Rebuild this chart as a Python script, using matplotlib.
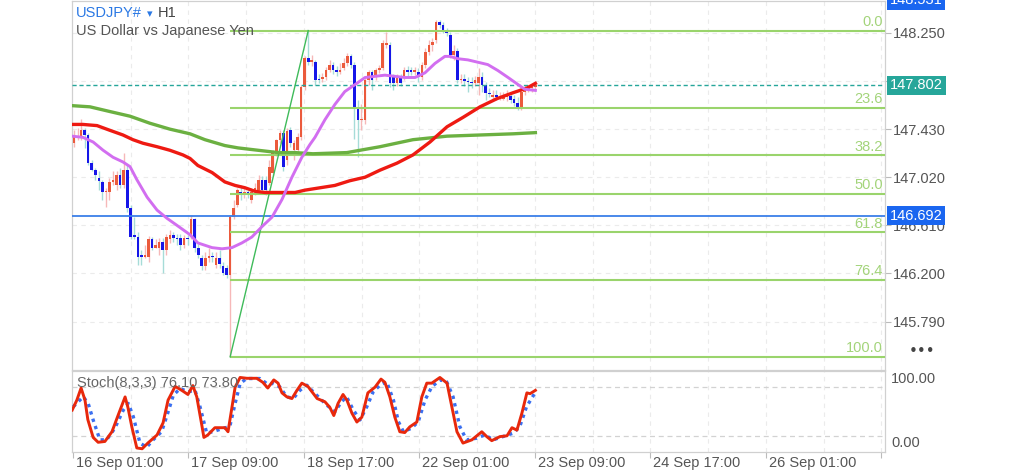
import matplotlib
matplotlib.use("Agg")
import matplotlib.pyplot as plt
import numpy as np

plt.rcParams['font.family'] = ['Liberation Sans', 'DejaVu Sans']

# ---------------- data ----------------
opens = [147.31, 147.36, 147.37, 147.42, 147.38, 147.14, 147.08, 147.01, 146.98, 146.89,
         146.89, 146.98, 146.95, 147.04, 146.95, 147.08, 146.76, 146.53, 146.51, 146.36,
         146.34, 146.34, 146.49, 146.42, 146.42, 146.47, 146.40, 146.49, 146.53, 146.50,
         146.50, 146.44, 146.50, 146.51, 146.66, 146.42, 146.33, 146.26, 146.33, 146.35,
         146.27, 146.33, 146.26, 146.25, 146.19, 146.68, 146.78, 146.89, 146.87, 146.89,
         146.83, 146.89, 146.91, 147.00, 147.00, 146.97, 147.06, 147.23, 147.34, 147.40,
         147.17, 147.42, 147.25, 147.25, 147.36, 147.79, 148.04, 148.00, 148.00, 147.86,
         147.86, 147.87, 147.93, 147.98, 147.93, 147.92, 147.95, 147.99, 148.05, 147.98,
         147.61, 147.51, 147.51, 147.85, 147.92, 147.87, 147.93, 147.95, 148.15, 148.15,
         147.87, 147.82, 147.87, 147.87, 147.93, 147.93, 147.92, 147.92, 147.87, 147.98,
         148.09, 148.15, 148.19, 148.34, 148.32, 148.26, 148.23, 148.06, 148.10, 147.85,
         147.86, 147.84, 147.83, 147.82, 147.82, 147.87, 147.81, 147.74, 147.70, 147.72,
         147.70, 147.69, 147.70, 147.71, 147.69, 147.65, 147.62, 147.75, 147.77, 147.78,
         147.79]
highs = [147.42, 147.44, 147.52, 147.44, 147.40, 147.17, 147.10, 147.07, 147.00, 146.93,
         147.01, 147.07, 147.07, 147.10, 147.23, 147.12, 146.78, 146.68, 146.55, 146.40,
         146.44, 146.52, 146.51, 146.49, 146.50, 146.50, 146.54, 146.57, 146.55, 146.54,
         146.54, 146.53, 146.53, 146.70, 146.67, 146.45, 146.36, 146.38, 146.42, 146.38,
         146.38, 146.40, 146.30, 146.27, 146.70, 146.83, 146.93, 146.95, 146.93, 146.91,
         146.93, 146.97, 147.04, 147.03, 147.03, 147.17, 147.25, 147.35, 147.42, 147.42,
         147.44, 147.45, 147.34, 147.40, 147.81, 148.05, 148.27, 148.06, 148.02, 147.90,
         147.91, 147.96, 148.02, 148.00, 147.97, 147.99, 148.04, 148.08, 148.07, 148.00,
         147.68, 147.64, 147.87, 147.93, 147.93, 147.95, 147.98, 148.19, 148.26, 148.17,
         147.90, 147.90, 147.90, 147.96, 147.97, 147.96, 147.96, 147.95, 148.00, 148.12,
         148.19, 148.21, 148.36, 148.36, 148.34, 148.29, 148.26, 148.15, 148.12, 147.90,
         147.90, 147.87, 147.87, 147.88, 147.95, 147.92, 147.83, 147.78, 147.76, 147.76,
         147.75, 147.75, 147.76, 147.73, 147.72, 147.70, 147.79, 147.81, 147.81, 147.81,
         147.82]
lows = [147.28, 147.34, 147.34, 147.27, 147.12, 147.07, 147.00, 146.91, 146.83, 146.77,
        146.83, 146.95, 146.91, 146.93, 146.93, 146.72, 146.49, 146.49, 146.27, 146.27,
        146.33, 146.30, 146.40, 146.42, 146.36, 146.20, 146.36, 146.46, 146.47, 146.44,
        146.40, 146.42, 146.44, 146.49, 146.38, 146.33, 146.23, 146.23, 146.30, 146.30,
        146.25, 146.25, 146.19, 146.16, 145.49, 146.66, 146.77, 146.83, 146.84, 146.84,
        146.80, 146.87, 146.89, 146.89, 146.87, 146.95, 147.03, 147.20, 147.31, 147.07,
        147.12, 147.28, 147.17, 147.23, 147.34, 147.76, 147.98, 147.97, 147.81, 147.82,
        147.83, 147.85, 147.92, 147.90, 147.88, 147.90, 147.93, 147.97, 147.95, 147.35,
        147.19, 147.42, 147.47, 147.81, 147.76, 147.85, 147.91, 147.93, 148.12, 147.79,
        147.76, 147.80, 147.80, 147.85, 147.88, 147.89, 147.89, 147.83, 147.85, 147.95,
        148.06, 148.10, 148.16, 148.29, 148.25, 148.22, 148.04, 148.02, 147.82, 147.82,
        147.80, 147.75, 147.78, 147.80, 147.72, 147.75, 147.68, 147.70, 147.68, 147.68,
        147.68, 147.68, 147.67, 147.65, 147.63, 147.59, 147.59, 147.72, 147.75, 147.75,
        147.76]
closes = [147.36, 147.37, 147.42, 147.38, 147.14, 147.08, 147.04, 146.99, 146.89, 146.90,
          146.98, 147.00, 147.04, 146.95, 147.08, 146.76, 146.51, 146.51, 146.34, 146.34,
          146.36, 146.49, 146.42, 146.44, 146.47, 146.40, 146.51, 146.53, 146.50, 146.49,
          146.44, 146.50, 146.49, 146.66, 146.42, 146.36, 146.26, 146.33, 146.35, 146.34,
          146.33, 146.28, 146.20, 146.19, 146.68, 146.76, 146.91, 146.87, 146.89, 146.87,
          146.89, 146.93, 147.00, 146.91, 146.91, 147.11, 147.23, 147.34, 147.40, 147.11,
          147.41, 147.31, 147.31, 147.36, 147.79, 148.04, 148.00, 148.02, 147.85, 147.85,
          147.87, 147.93, 147.98, 147.93, 147.92, 147.93, 147.99, 148.05, 147.98, 147.61,
          147.51, 147.52, 147.85, 147.92, 147.85, 147.93, 147.95, 148.16, 148.16, 147.82,
          147.82, 147.87, 147.82, 147.93, 147.92, 147.92, 147.93, 147.87, 147.98, 148.09,
          148.15, 148.17, 148.34, 148.32, 148.27, 148.25, 148.06, 148.10, 147.85, 147.86,
          147.84, 147.83, 147.82, 147.85, 147.87, 147.81, 147.74, 147.73, 147.72, 147.70,
          147.71, 147.71, 147.72, 147.68, 147.65, 147.62, 147.75, 147.78, 147.79, 147.79,
          147.802]

# moving averages (bar index, price)
ma_fast_x = [-0.5, 2.5, 5.4, 8.2, 11, 13.8, 15.8, 17.7, 20.6, 23.4, 26.2, 29, 32.7, 34.9, 38.9,
             41.7, 44.5, 47.3, 50.1, 53, 55.8, 58.6, 61.4, 64.2, 66.5, 67.9, 70.7, 73.5, 76.3,
             79.2, 82, 84.8, 87.6, 90.4, 93.2, 96.1, 98.9, 101.7, 104.5, 105.9, 108.2, 111,
             113.8, 116.6, 119.4, 122.3, 125.1, 127, 130]
ma_fast_y = [147.37, 147.36, 147.32, 147.25, 147.19, 147.15, 147.11, 147.00, 146.85, 146.74,
             146.67, 146.61, 146.53, 146.46, 146.42, 146.41, 146.42, 146.46, 146.51, 146.60,
             146.68, 146.83, 147.02, 147.19, 147.30, 147.36, 147.51, 147.64, 147.75, 147.81,
             147.87, 147.88, 147.89, 147.88, 147.87, 147.87, 147.91, 147.99, 148.05, 148.05,
             148.03, 148.02, 148.00, 147.98, 147.93, 147.87, 147.81, 147.77, 147.76]
ma_mid_x = [-0.5, 2.5, 6.5, 10.1, 13.8, 16.6, 19.4, 23.4, 27, 30.7, 32.7, 34.9, 38.9, 42.5,
            45.4, 48.2, 51, 53.8, 56.6, 59.4, 62.3, 65.1, 69.3, 73.5, 77.7, 82, 86.2, 91,
            95.5, 100.3, 105.1, 109.6, 114.4, 119.2, 123.7, 127.6, 130]
ma_mid_y = [147.47, 147.47, 147.46, 147.42, 147.38, 147.34, 147.31, 147.28, 147.25, 147.21,
            147.18, 147.12, 147.06, 146.98, 146.95, 146.93, 146.90, 146.89, 146.89, 146.89,
            146.89, 146.91, 146.93, 146.95, 146.99, 147.02, 147.08, 147.14, 147.21, 147.32,
            147.45, 147.53, 147.62, 147.69, 147.74, 147.78, 147.82]
ma_slow_x = [-0.5, 4.5, 10.1, 15.8, 21.4, 27, 32.7, 36.9, 42.5, 46.2, 51.8, 57.5, 62.3, 67.3,
             76.9, 86.2, 95.5, 105.1, 114.4, 123.7, 130]
ma_slow_y = [147.63, 147.62, 147.58, 147.54, 147.48, 147.43, 147.39, 147.34, 147.29, 147.27,
             147.25, 147.23, 147.23, 147.22, 147.23, 147.28, 147.34, 147.37, 147.38, 147.39,
             147.40]

# stochastic (bar index, value)
stoch_k_x = [-0.5, 0.8, 2.0, 3.1, 3.9, 5.4, 6.8, 8.7, 10.7, 12.4, 14.4, 15.2, 16.3, 17.7, 19.2,
             20.8, 23.4, 25.1, 26.5, 28.5, 30.4, 32.1, 33.5, 34.6, 36.1, 36.6, 37.7, 39.7, 42.5,
             43.4, 44.5, 45.4, 46.8, 48.7, 51.5, 53.2, 54.6, 56.3, 57.5, 58.6, 60, 61.4, 62.8,
             64.2, 65.9, 68.5, 70.7, 72.1, 73.2, 74.4, 75.8, 76.9, 78.3, 79.7, 81.1, 82.8, 84.8,
             86.5, 87.6, 89, 90.4, 91.8, 93.2, 94.6, 96.6, 98, 99.4, 100.8, 103.1, 105.1, 106.5,
             107.9, 109.6, 112.1, 114.9, 116.3, 117.7, 120, 122, 123.4, 124.8, 126.2, 127.6,
             128.5, 130]
stoch_k = [51.8, 64, 79, 64, 40, 18, 12, 13, 25, 45, 68, 55, 31, 5, 4, 11, 21, 36, 64, 81,
           76, 71, 82, 68, 31, 18, 21, 30, 30, 25, 55, 80, 92, 91, 91, 86, 79, 89, 85, 73,
           68, 66, 76, 85, 81, 66, 62, 55, 45, 60, 71, 64, 48, 37, 43, 73, 80, 90, 86, 68,
           43, 25, 24, 31, 37, 68, 85, 85, 92, 85, 55, 25, 11, 15, 25, 19, 14, 19, 20, 30,
           27, 48, 73, 72, 76.1]
stoch_d_x = [-0.2, 2.6, 4, 5.4, 7.3, 9.2, 11.5, 13.9, 15.3, 16.7, 18.6, 20.5, 22.3, 24.7, 26.1,
             28, 29.9, 32.2, 34.1, 35.5, 37.4, 39.2, 42.1, 43.9, 45.4, 46.8, 48.6, 52.4, 54.3,
             56.1, 58, 59.9, 61.8, 63.7, 65.6, 67.4, 69.3, 71.2, 73.5, 75.4, 76.8, 78.7, 80.6,
             82.5, 84.3, 86.2, 88.1, 90, 91.4, 92.8, 95.1, 97, 98.9, 100.8, 103.1, 105, 106.8,
             108.7, 110.6, 113.4, 115.8, 118.1, 120.9, 123.7, 125.6, 127.5, 130]
stoch_d = [55.9, 68.2, 60, 39.6, 15, 15, 29.3, 51.8, 60, 43.7, 10.9, 6, 15, 25.2, 43.7, 70.2,
           78.4, 74.3, 76.3, 55.9, 23.2, 25.2, 29.3, 31.4, 60, 84.5, 90.7, 90.7, 84.5, 84.5,
           80.4, 68.2, 66.1, 76.3, 82.5, 74.3, 66.1, 58, 49.8, 62, 68.2, 51.8, 39.6, 55.9,
           74.3, 82.5, 86.6, 64.1, 37.5, 25.2, 29.3, 37.5, 64.1, 80.4, 89.1, 86.6, 68.2, 31.4,
           15, 17, 21.1, 15, 19.1, 23.2, 31.4, 55.9, 73.8]

price_ticks = [148.250, 147.840, 147.430, 147.020, 146.610, 146.200, 145.790]
time_labels = ["16 Sep 01:00", "17 Sep 09:00", "18 Sep 17:00", "22 Sep 01:00",
               "23 Sep 09:00", "24 Sep 17:00", "26 Sep 01:00", ""]
fib_levels = [0.0, 23.6, 38.2, 50.0, 61.8, 76.4, 100.0]
fib_low_bar, fib_high_bar = 44, 66
bid_price = 147.802
line_price = 146.692
top_price = 148.531
stoch_last = (76.10, 73.80)

# ---------------- figure ----------------
W, H = 1024, 472
fig = plt.figure(figsize=(W / 100, H / 100), dpi=100)
fig.patch.set_facecolor('white')

def fx(x):
    return x / W

def fy(y):
    return 1 - y / H

ax = fig.add_axes([fx(72), fy(370), 813 / W, 369 / H])
ax2 = fig.add_axes([fx(72), fy(452), 813 / W, 81 / H])

x_left, x_right = -0.56, 228.5
tick_pos = [-0.3 + 32.54 * k for k in range(len(time_labels))]
grid_x = [-0.3 + 16.27 * k for k in range(1, 2 * len(time_labels) - 1, 2)]

o = np.array(opens); h = np.array(highs); l = np.array(lows); c = np.array(closes)
idx = np.arange(len(c))
up = c >= o

# grid
for gx in grid_x + tick_pos[1:]:
    ax.axvline(gx, color='#ebebeb', lw=0.8, ls=(0, (4, 4)), zorder=0)
    ax2.axvline(gx, color='#ebebeb', lw=0.8, ls=(0, (4, 4)), zorder=0)
for py in price_ticks:
    ax.axhline(py, color='#ebebeb', lw=0.8, ls=(0, (4, 4)), zorder=0)

# candles
wick_cols = np.where(up, '#f6b8b8', '#a6dcd8')
body_cols = np.where(up, '#eb5a3c', '#1616e8')
ax.vlines(idx, l, h, colors=wick_cols, lw=1.0, zorder=2)
ax.bar(idx, np.maximum(np.abs(c - o), 0.007), bottom=np.minimum(o, c), width=0.74,
       color=body_cols, lw=0, zorder=3)

# horizontal lines
ax.axhline(bid_price, color='#26a69a', lw=1.0, ls=(0, (3, 2)), zorder=3)
ax.axhline(line_price, color='#3b7fe8', lw=1.3, zorder=3)

# fibonacci
f_lo = lows[fib_low_bar]
f_hi = highs[fib_high_bar]
for lvl in fib_levels:
    pr = f_hi - (f_hi - f_lo) * lvl / 100.0
    ax.hlines(pr, fib_low_bar, x_right, color='#9ad46c', lw=1.5, zorder=3)
    ax.annotate(f"{lvl:.1f}", xy=(x_right, pr), xytext=(-2, 1.5), textcoords='offset pixels',
                ha='right', va='bottom', color='#a3d47a', fontsize=10.5, zorder=6)
ax.plot([fib_low_bar, fib_high_bar], [f_lo, f_hi], color='#3fbb5a', lw=1.0, zorder=3)

# moving averages
ax.plot(ma_slow_x, ma_slow_y, color='#6bb041', lw=2.4, zorder=5, solid_joinstyle='round')
ax.plot(ma_mid_x, ma_mid_y, color='#ee1a12', lw=2.4, zorder=5, solid_joinstyle='round')
ax.plot(ma_fast_x, ma_fast_y, color='#d26ef0', lw=2.1, zorder=5, solid_joinstyle='round')

ax.set_xlim(x_left, x_right)
ax.set_ylim(145.377, 148.522)
ax.set_xticks([])
ax.yaxis.tick_right()
ax.set_yticks(price_ticks)
ax.set_yticklabels([f"{p:.3f}" for p in price_ticks])
ax.tick_params(axis='y', length=4, width=0.8, color='#bbbbbb', labelcolor='#555555',
               labelsize=10.5, pad=2)
for s in ax.spines.values():
    s.set_color('#d0d0d0')
    s.set_linewidth(0.9)

# price boxes
for pr, col in [(top_price, '#1a66f0'), (bid_price, '#26a69a'), (line_price, '#1a66f0')]:
    ax.annotate(f"{pr:.3f}", xy=(1, pr), xycoords=ax.get_yaxis_transform(),
                xytext=(5, 0), textcoords='offset pixels', ha='left', va='center',
                color='white', fontsize=10.5, zorder=10, annotation_clip=False,
                bbox=dict(boxstyle='square,pad=0.18', fc=col, ec='none'))

# stochastic panel
ax2.axhline(80, color='#d2d2d2', lw=0.9, ls=(0, (4, 3)), zorder=1)
ax2.axhline(20, color='#d2d2d2', lw=0.9, ls=(0, (4, 3)), zorder=1)
ax2.plot(stoch_k_x, stoch_k, color='#e8280c', lw=2.1, zorder=4, solid_joinstyle='round')
ax2.plot(stoch_d_x, stoch_d, color='#3a6ff0', lw=2.4, ls=(0, (1, 1.3)), zorder=3)
ax2.set_xlim(x_left, x_right)
ax2.set_ylim(0, 100)
ax2.set_yticks([])
ax2.set_xticks(tick_pos)
ax2.set_xticklabels([])
ax2.tick_params(axis='x', length=4, width=0.8, color='#bbbbbb')
for s in ax2.spines.values():
    s.set_color('#d0d0d0')
    s.set_linewidth(0.9)

for tp, lab in zip(tick_pos, time_labels):
    ax2.annotate(lab, xy=(tp, 0), xycoords=ax2.get_xaxis_transform(), xytext=(3, -11),
                 textcoords='offset pixels', ha='left', va='center', color='#555555',
                 fontsize=10.5, annotation_clip=False)

fig.text(fx(891), fy(379), "100.00", ha='left', va='center', color='#555555', fontsize=10.5)
fig.text(fx(891), fy(443), "0.00", ha='left', va='center', color='#555555', fontsize=10.5)
fig.text(fx(77), fy(383), f"Stoch(8,3,3) {stoch_last[0]:.2f} {stoch_last[1]:.2f}",
         ha='left', va='center', color='#666666', fontsize=10.5, zorder=1)

# titles
fig.text(fx(76), fy(13), "USDJPY#", ha='left', va='center', color='#2a78e4', fontsize=10.5)
fig.text(fx(147), fy(14), "▾", ha='left', va='center', color='#2a78e4', fontsize=8,
         family=['DejaVu Sans'])
fig.text(fx(158), fy(13), "H1", ha='left', va='center', color='#444444', fontsize=10.5)
fig.text(fx(76), fy(31), "US Dollar vs Japanese Yen", ha='left', va='center',
         color='#555555', fontsize=10.5)
fig.text(fx(909), fy(352), "•••", ha='left', va='center', color='#444444', fontsize=11,
         family=['DejaVu Sans'])

fig.savefig("out.png", dpi=100, facecolor='white')
